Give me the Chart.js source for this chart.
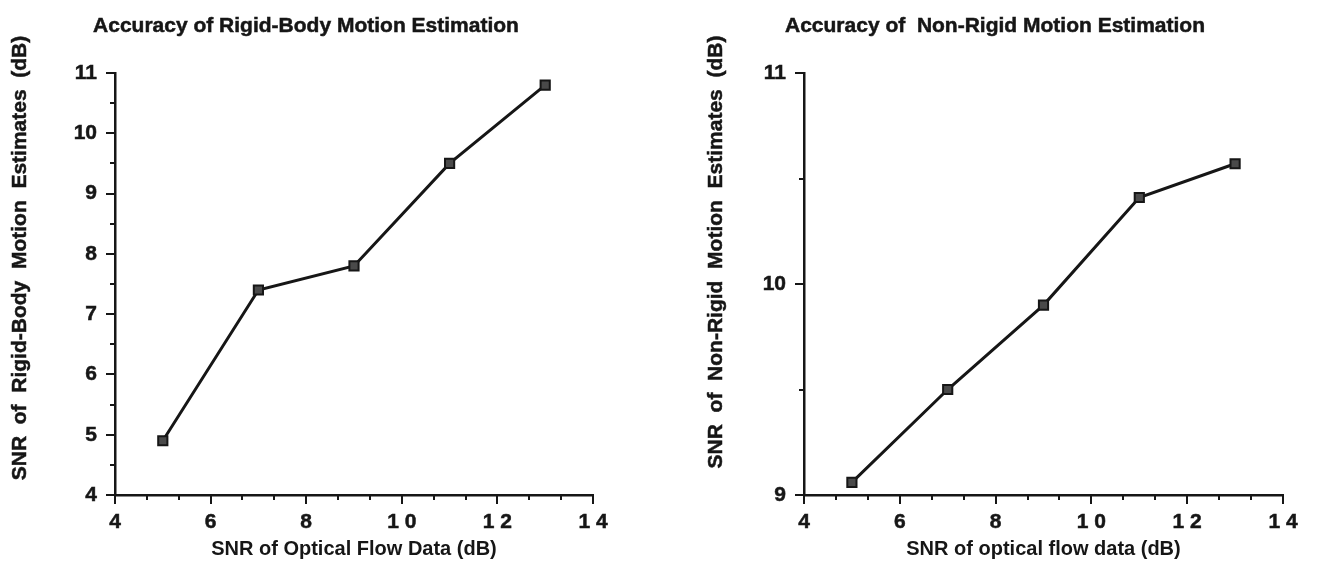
<!DOCTYPE html>
<html>
<head>
<meta charset="utf-8">
<script src="https://cdn.jsdelivr.net/npm/chart.js@4.4.1/dist/chart.umd.min.js"></script>
<style>
    html, body { margin: 0; padding: 0; background: #fff; }
    #wrap { position: relative; width: 1317px; height: 562px; }
    .box { position: absolute; top: 0; height: 562px; }
    #box_rigid { left: 0; width: 658px; }
    #box_nonrigid { left: 658px; width: 659px; }
</style>
</head>
<body>
<div id="wrap">
    <div class="box" id="box_rigid"><canvas id="chart_rigid"></canvas></div>
    <div class="box" id="box_nonrigid"><canvas id="chart_nonrigid"></canvas></div>
</div>
<script>
var snr_flow = [5, 7, 9, 11, 13];
var snr_rigid = [4.9, 7.4, 7.8, 9.5, 10.8];
var snr_nonrigid = [9.06, 9.5, 9.9, 10.41, 10.57];

var x_ticks = [4, 6, 8, 10, 12, 14];
var x_tick_labels = ['4', '6', '8', '1 0', '1 2', '1 4'];
var rigid_y_ticks = [4, 5, 6, 7, 8, 9, 10, 11];
var nonrigid_y_ticks = [9, 10, 11];

document.addEventListener("DOMContentLoaded", function() {
    'use strict';

    var FONT = '"Liberation Sans", Arial, Helvetica, sans-serif';
    var INK = '#161616';

    // major ticks plus the minor ones between them (x: thirds, y: halves)
    function with_minor(major, parts) {
        var out = [];
        for (var i = 0; i < major.length; i++) {
            out.push({value: major[i], big: true});
            if (i < major.length - 1) {
                for (var k = 1; k < parts; k++) {
                    out.push({value: major[i] + (major[i + 1] - major[i]) * k / parts, big: false});
                }
            }
        }
        return out;
    }

    function label_for(value, major, labels) {
        for (var i = 0; i < major.length; i++) {
            if (Math.abs(major[i] - value) < 1e-6) {
                return labels ? labels[i] : String(major[i]);
            }
        }
        return '';
    }

    var tick_marks = {
        id: 'tick_marks',
        afterDraw: function(chart) {
            var ctx = chart.ctx;
            var xs = chart.scales.x;
            var ys = chart.scales.y;
            var area = chart.chartArea;
            ctx.save();
            ctx.strokeStyle = INK;
            ctx.lineWidth = 2;
            ctx.beginPath();
            xs.ticks.forEach(function(t) {
                var px = Math.round(xs.getPixelForValue(t.value));
                ctx.moveTo(px, area.bottom);
                ctx.lineTo(px, area.bottom + (t.big ? 9 : 5));
            });
            ys.ticks.forEach(function(t) {
                var py = Math.round(ys.getPixelForValue(t.value));
                ctx.moveTo(area.left, py);
                ctx.lineTo(area.left - (t.big ? 9 : 5), py);
            });
            ctx.stroke();
            ctx.restore();
        }
    };

    var headings = {
        id: 'headings',
        afterDraw: function(chart, args, opts) {
            var ctx = chart.ctx;
            ctx.save();
            ctx.fillStyle = INK;
            ctx.strokeStyle = INK;
            ctx.lineWidth = 0.5;
            ctx.textAlign = 'center';
            ctx.textBaseline = 'middle';
            ctx.font = 'bold 21px ' + FONT;
            ctx.fillText(opts.title, opts.title_x, 26);
            ctx.strokeText(opts.title, opts.title_x, 26);
            ctx.translate(opts.ytitle_x, opts.ytitle_y);
            ctx.rotate(-Math.PI / 2);
            ctx.fillText(opts.ytitle, 0, 0);
            ctx.strokeText(opts.ytitle, 0, 0);
            ctx.restore();
        }
    };

    function draw_chart(id, values, y_ticks, y_width, pad_right, title, title_x, ytitle, ytitle_x, ytitle_y, xtitle) {
        var $canvas = document.getElementById(id);
        if (!$canvas) {
            return;
        }
        var points = snr_flow.map(function(x, i) {
            return {x: x, y: values[i]};
        });
        new Chart($canvas.getContext('2d'), {
            type: 'scatter',
            data: {
                datasets: [{
                    data: points,
                    showLine: true,
                    borderColor: INK,
                    borderWidth: 3,
                    pointStyle: 'rect',
                    pointRadius: 6.5,
                    pointBackgroundColor: '#4a4a4a',
                    pointBorderColor: INK,
                    pointBorderWidth: 2
                }]
            },
            options: {
                responsive: true,
                maintainAspectRatio: false,
                animation: false,
                layout: {
                    padding: {left: 0, right: pad_right, top: 73, bottom: 0}
                },
                plugins: {
                    legend: {display: false},
                    tooltip: {enabled: false},
                    headings: {
                        title: title,
                        title_x: title_x,
                        ytitle: ytitle,
                        ytitle_x: ytitle_x,
                        ytitle_y: ytitle_y
                    }
                },
                scales: {
                    x: {
                        type: 'linear',
                        min: x_ticks[0],
                        max: x_ticks[x_ticks.length - 1],
                        afterBuildTicks: function(scale) {
                            scale.ticks = with_minor(x_ticks, 3);
                        },
                        afterFit: function(scale) {
                            scale.height = 67;
                        },
                        grid: {display: false, drawTicks: true, tickLength: 9},
                        border: {display: true, color: INK, width: 2.5},
                        ticks: {
                            autoSkip: false,
                            maxRotation: 0,
                            padding: 6,
                            color: INK,
                            textStrokeColor: INK,
                            textStrokeWidth: 0.5,
                            font: {family: FONT, size: 21, weight: 'bold'},
                            callback: function(value) {
                                return label_for(value, x_ticks, x_tick_labels);
                            }
                        },
                        title: {
                            display: true,
                            text: xtitle,
                            color: INK,
                            font: {family: FONT, size: 20, weight: 'bold'},
                            padding: {top: 0, bottom: 1}
                        }
                    },
                    y: {
                        type: 'linear',
                        min: y_ticks[0],
                        max: y_ticks[y_ticks.length - 1],
                        afterBuildTicks: function(scale) {
                            scale.ticks = with_minor(y_ticks, 2);
                        },
                        afterFit: function(scale) {
                            scale.width = y_width;
                        },
                        grid: {display: false, drawTicks: true, tickLength: 9},
                        border: {display: true, color: INK, width: 2.5},
                        ticks: {
                            autoSkip: false,
                            padding: 9,
                            color: INK,
                            textStrokeColor: INK,
                            textStrokeWidth: 0.5,
                            font: {family: FONT, size: 21, weight: 'bold'},
                            callback: function(value) {
                                return label_for(value, y_ticks);
                            }
                        }
                    }
                }
            },
            plugins: [tick_marks, headings]
        });
    }

    draw_chart('chart_rigid', snr_rigid, rigid_y_ticks, 115, 65,
        'Accuracy of Rigid-Body Motion Estimation', 306,
        'SNR  of  Rigid-Body  Motion  Estimates  (dB)', 20, 258,
        'SNR of Optical Flow Data (dB)');

    draw_chart('chart_nonrigid', snr_nonrigid, nonrigid_y_ticks, 146, 34,
        'Accuracy of  Non-Rigid Motion Estimation', 337,
        'SNR  of  Non-Rigid  Motion  Estimates  (dB)', 58, 252,
        'SNR of optical flow data (dB)');
});
</script>
</body>
</html>
